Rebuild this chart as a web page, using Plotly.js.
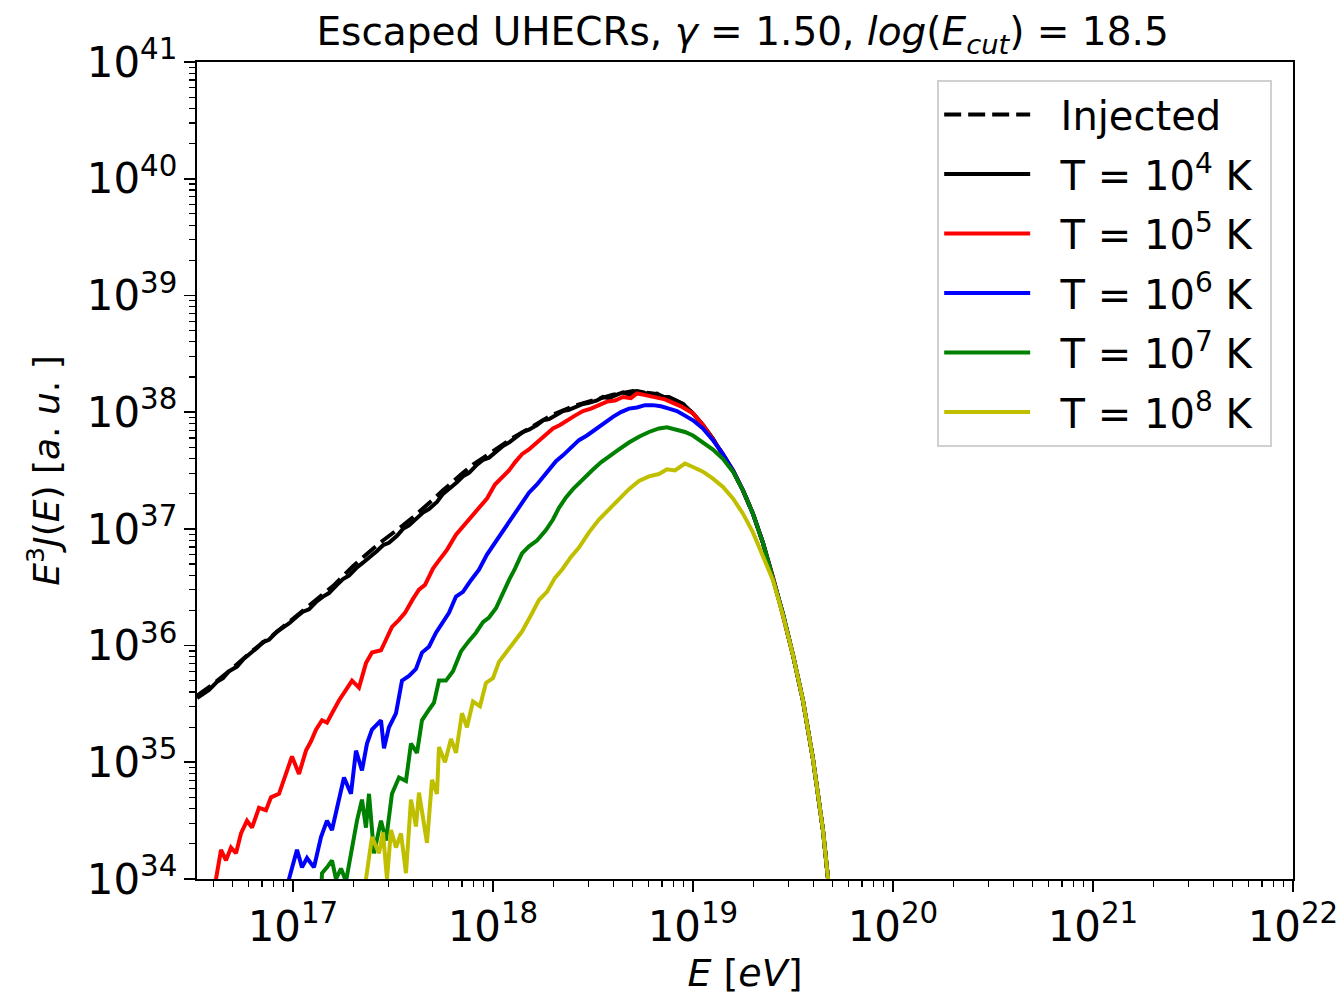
<!DOCTYPE html>
<html>
<head>
<meta charset="utf-8">
<script src="https://cdn.plot.ly/plotly-3.0.1.min.js"></script>
<style>html,body{margin:0;padding:0;background:#fff;}#chart{width:1338px;height:995px;}</style>
</head>
<body>
<div id="chart"></div>
<script>
// log10(E [eV]) and log10(E^3 J(E))
const legendLabels = ["Injected", "T = 10<sup>4</sup> K", "T = 10<sup>5</sup> K", "T = 10<sup>6</sup> K", "T = 10<sup>7</sup> K", "T = 10<sup>8</sup> K"];
const seriesColors = ["#000000", "#000000", "#ff0000", "#0000ff", "#008000", "#bfbf00"];

const injLogE = [16.52,16.60,16.70,16.80,16.90,17.00,17.10,17.20,17.30,17.35,17.40,17.45,17.50,17.55,17.60,17.65,17.70,17.75,17.80,17.85,17.90,17.95,18.00,18.10,18.20,18.30,18.40,18.50,18.60,18.70,18.75,18.80,18.90,18.95,19.00,19.05,19.10,19.15,19.20,19.25,19.30,19.35,19.40,19.45,19.50,19.55,19.60,19.65,19.70];
const injLogY = [35.57,35.67,35.81,35.96,36.09,36.23,36.37,36.51,36.68,36.76,36.83,36.90,36.96,37.03,37.10,37.17,37.25,37.33,37.41,37.48,37.55,37.61,37.66,37.78,37.88,37.98,38.05,38.10,38.15,38.18,38.17,38.16,38.11,38.07,37.99,37.89,37.77,37.64,37.50,37.33,37.13,36.88,36.59,36.27,35.92,35.53,35.03,34.42,33.60];

const t4LogE = [16.52,16.55,16.58,16.62,16.65,16.68,16.72,16.75,16.78,16.82,16.85,16.88,16.92,16.95,16.98,17.02,17.05,17.08,17.12,17.15,17.18,17.22,17.25,17.28,17.32,17.35,17.38,17.42,17.45,17.48,17.52,17.55,17.58,17.62,17.65,17.68,17.72,17.75,17.78,17.82,17.85,17.88,17.92,17.95,17.98,18.02,18.05,18.08,18.12,18.15,18.18,18.22,18.25,18.28,18.32,18.35,18.38,18.42,18.45,18.48,18.52,18.55,18.58,18.62,18.65,18.68,18.72,18.75,18.78,18.82,18.85,18.88,18.92,18.95,19.00,19.05,19.10,19.15,19.20,19.25,19.30,19.35,19.40,19.45,19.50,19.55,19.60,19.65,19.70];
const t4LogY = [35.55,35.59,35.62,35.69,35.72,35.78,35.82,35.88,35.92,35.98,36.03,36.05,36.12,36.15,36.19,36.25,36.29,36.31,36.38,36.42,36.45,36.52,36.57,36.60,36.67,36.71,36.75,36.81,36.86,36.88,36.94,37.00,37.03,37.09,37.14,37.17,37.23,37.30,37.34,37.40,37.45,37.48,37.55,37.59,37.61,37.67,37.71,37.74,37.79,37.83,37.85,37.89,37.93,37.94,37.98,38.01,38.02,38.05,38.07,38.08,38.10,38.13,38.12,38.15,38.17,38.15,38.18,38.17,38.15,38.16,38.13,38.13,38.10,38.07,37.99,37.89,37.77,37.64,37.50,37.33,37.13,36.88,36.59,36.27,35.92,35.53,35.03,34.42,33.60];

const t5LogE = [16.60,16.615,16.64,16.665,16.69,16.715,16.74,16.77,16.795,16.83,16.865,16.89,16.93,16.965,16.995,17.03,17.065,17.09,17.115,17.145,17.17,17.195,17.23,17.265,17.295,17.33,17.365,17.395,17.44,17.465,17.495,17.53,17.56,17.60,17.63,17.66,17.70,17.73,17.77,17.815,17.85,17.89,17.93,17.97,18.01,18.045,18.08,18.11,18.145,18.18,18.22,18.265,18.30,18.335,18.37,18.41,18.45,18.49,18.53,18.57,18.61,18.65,18.69,18.72,18.75,18.78,18.82,18.86,18.90,18.94,18.98,19.00,19.05,19.10,19.15,19.20,19.25,19.30,19.35,19.40,19.45,19.50,19.55,19.60,19.65,19.70];
const t5LogY = [33.80,34.00,34.25,34.16,34.27,34.22,34.39,34.50,34.44,34.61,34.59,34.70,34.73,34.91,35.05,34.90,35.10,35.18,35.28,35.36,35.34,35.42,35.53,35.62,35.70,35.64,35.85,35.94,35.96,36.05,36.16,36.22,36.28,36.40,36.48,36.52,36.66,36.73,36.82,36.95,37.02,37.10,37.19,37.26,37.38,37.44,37.50,37.57,37.64,37.68,37.74,37.80,37.86,37.89,37.93,37.97,38.01,38.03,38.06,38.09,38.10,38.13,38.12,38.16,38.15,38.14,38.12,38.11,38.08,38.05,38.01,37.99,37.89,37.77,37.64,37.50,37.33,37.13,36.88,36.59,36.27,35.92,35.53,35.03,34.42,33.60];

const t6LogE = [16.97,16.98,17.02,17.045,17.07,17.105,17.14,17.17,17.195,17.22,17.255,17.29,17.315,17.345,17.37,17.395,17.44,17.455,17.48,17.515,17.545,17.58,17.615,17.645,17.68,17.715,17.75,17.78,17.815,17.85,17.89,17.93,17.97,18.01,18.065,18.10,18.14,18.18,18.22,18.26,18.315,18.35,18.39,18.43,18.47,18.51,18.565,18.60,18.64,18.68,18.72,18.76,18.80,18.84,18.88,18.92,18.96,19.00,19.05,19.10,19.15,19.20,19.25,19.30,19.35,19.40,19.45,19.50,19.55,19.60,19.65,19.70];
const t6LogY = [33.80,34.00,34.25,34.10,34.18,34.10,34.36,34.50,34.42,34.61,34.87,34.73,35.10,34.93,35.16,35.28,35.36,35.12,35.30,35.42,35.70,35.74,35.80,35.94,35.99,36.11,36.20,36.28,36.42,36.46,36.56,36.65,36.78,36.88,37.03,37.12,37.22,37.31,37.38,37.46,37.58,37.63,37.70,37.76,37.80,37.85,37.92,37.96,38.00,38.03,38.04,38.06,38.06,38.05,38.03,38.01,37.97,37.93,37.86,37.76,37.64,37.50,37.33,37.13,36.88,36.59,36.27,35.92,35.53,35.03,34.42,33.60];

const t7LogE = [17.14,17.145,17.17,17.195,17.215,17.24,17.265,17.29,17.32,17.345,17.365,17.38,17.405,17.44,17.465,17.495,17.53,17.565,17.59,17.62,17.645,17.68,17.705,17.73,17.765,17.80,17.84,17.88,17.915,17.95,17.98,18.015,18.05,18.08,18.11,18.145,18.18,18.22,18.265,18.30,18.33,18.365,18.40,18.45,18.495,18.54,18.585,18.63,18.68,18.73,18.78,18.83,18.87,18.92,18.96,19.00,19.05,19.10,19.15,19.20,19.25,19.30,19.35,19.40,19.45,19.50,19.55,19.60,19.65,19.70];
const t7LogY = [33.85,34.05,34.10,34.16,34.00,34.09,33.98,34.22,34.50,34.68,34.44,34.73,34.22,34.50,34.33,34.73,34.87,34.84,35.16,35.08,35.36,35.45,35.51,35.70,35.70,35.78,35.95,36.04,36.11,36.20,36.24,36.32,36.46,36.56,36.66,36.79,36.85,36.90,36.99,37.08,37.18,37.27,37.34,37.43,37.50,37.57,37.62,37.68,37.74,37.79,37.83,37.86,37.87,37.85,37.83,37.80,37.74,37.68,37.60,37.49,37.33,37.13,36.88,36.59,36.27,35.92,35.53,35.03,34.42,33.60];

const t8LogE = [17.36,17.365,17.395,17.43,17.45,17.47,17.49,17.515,17.54,17.565,17.59,17.615,17.63,17.67,17.695,17.72,17.73,17.76,17.79,17.815,17.845,17.87,17.90,17.935,17.965,18.00,18.03,18.065,18.10,18.145,18.19,18.23,18.27,18.31,18.345,18.39,18.43,18.48,18.53,18.58,18.63,18.68,18.73,18.78,18.83,18.87,18.91,18.96,19.00,19.05,19.10,19.15,19.20,19.25,19.30,19.35,19.40,19.45,19.50,19.55,19.60,19.65,19.70];
const t8LogY = [33.80,34.00,34.36,34.22,34.40,34.00,34.42,34.27,34.39,34.05,34.68,34.45,34.74,34.31,34.85,34.73,35.13,35.00,35.20,35.08,35.42,35.30,35.52,35.48,35.68,35.72,35.86,35.94,36.02,36.12,36.26,36.39,36.46,36.58,36.65,36.76,36.84,36.97,37.08,37.17,37.26,37.34,37.41,37.45,37.47,37.51,37.50,37.56,37.53,37.49,37.43,37.36,37.26,37.13,36.97,36.77,36.56,36.26,35.92,35.53,35.03,34.42,33.60];

const logE = [injLogE, t4LogE, t5LogE, t6LogE, t7LogE, t8LogE];
const logY = [injLogY, t4LogY, t5LogY, t6LogY, t7LogY, t8LogY];

const FONT = "DejaVu Sans, Liberation Sans, sans-serif";
const traces = legendLabels.map((name, i) => ({
  type: "scatter",
  mode: "lines",
  name: "&nbsp;&nbsp;" + name + "&nbsp;",
  legendgroup: "g" + i,
  x: logE[i].map(v => Math.pow(10, v)),
  y: logY[i].map(v => Math.pow(10, v)),
  line: {color: seriesColors[i], width: 4, dash: i === 0 ? "17px,7px" : "solid"},
  hoverinfo: "skip"
}));

const axisCommon = {
  type: "log",
  showline: true, mirror: true, linecolor: "#000", linewidth: 2,
  ticks: "outside", ticklen: 11, tickwidth: 1.6, tickcolor: "#000",
  showgrid: false, zeroline: false,
  dtick: 1, exponentformat: "power",
  ticklabeloverflow: "allow",
  tickfont: {family: FONT, size: 33.5, color: "#000"},
  minor: {ticks: "outside", ticklen: 6, tickwidth: 1.2, tickcolor: "#000", showgrid: false}
};

const layout = {
  width: 1338, height: 995,
  margin: {l: 197, r: 45, t: 62, b: 116},
  paper_bgcolor: "#fff", plot_bgcolor: "#fff",
  font: {family: FONT, color: "#000"},
  showlegend: true,
  title: {
    text: "Escaped UHECRs, <i>γ</i> = 1.50, <i>log</i>(<i>E</i><sub><i>cut</i></sub>) = 18.5",
    font: {family: FONT, size: 39, color: "#000"},
    x: 0.555, xanchor: "center", y: 0.968, yanchor: "middle"
  },
  xaxis: Object.assign({}, axisCommon, {
    range: [16.52, 22.0005],
    title: {text: "<i>E</i> [<i>eV</i>]", font: {family: FONT, size: 38}, standoff: 10}
  }),
  yaxis: Object.assign({}, axisCommon, {
    range: [34, 41],
    title: {text: "<i>E</i><sup>3</sup><i>J</i>(<i>E</i>) [<i>a</i>. <i>u</i>. ]", font: {family: FONT, size: 36}, standoff: 16}
  }),
  legend: {
    x: 0.981, xanchor: "right", y: 0.978, yanchor: "top",
    bgcolor: "rgba(255,255,255,0.85)", bordercolor: "#d0d0d0", borderwidth: 2,
    font: {family: FONT, size: 40, color: "#000"},
    itemwidth: 86,
    traceorder: "grouped", tracegroupgap: 4.5
  }
};

Plotly.newPlot("chart", traces, layout, {staticPlot: true, displayModeBar: false});
</script>
</body>
</html>
